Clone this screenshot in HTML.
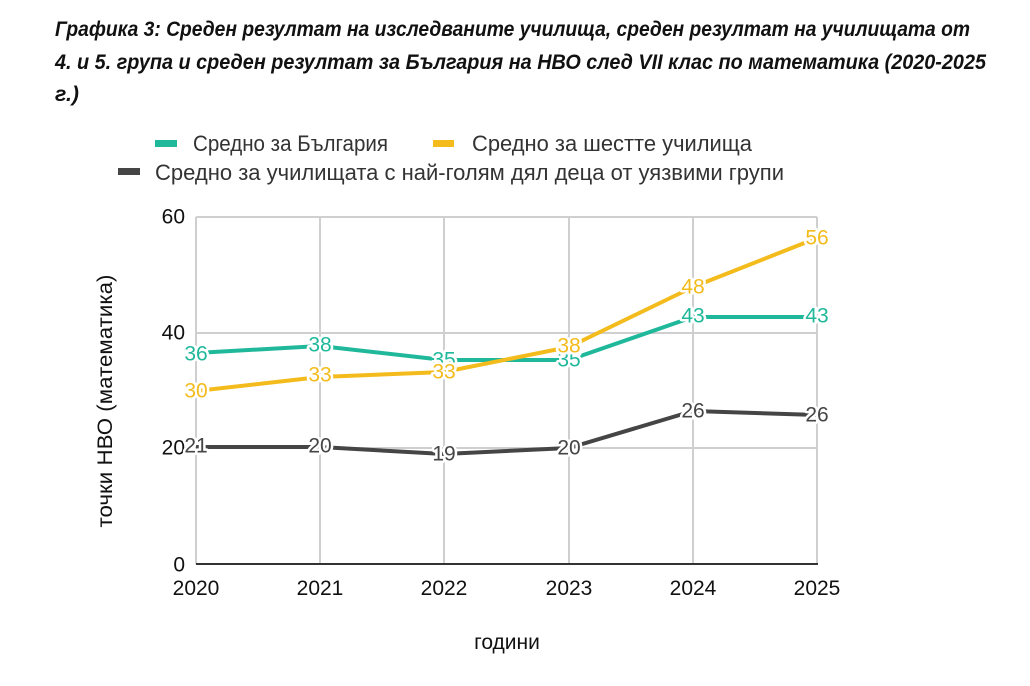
<!DOCTYPE html>
<html>
<head>
<meta charset="utf-8">
<style>
html,body{margin:0;padding:0;background:#fff;}
svg{display:block;}
text{font-family:"Liberation Sans","Noto Sans CJK JP",sans-serif;}
.t{font-weight:bold;font-style:italic;font-size:21px;fill:#111;}
.lg{font-size:22px;fill:#333;}
.tick{font-size:21px;fill:#111;}
.lbl{font-size:21px;paint-order:stroke;stroke:#fff;stroke-width:5px;stroke-linejoin:round;text-anchor:middle;dominant-baseline:central;}
</style>
</head>
<body>
<svg width="1030" height="686" viewBox="0 0 1030 686" xmlns="http://www.w3.org/2000/svg">
<rect width="1030" height="686" fill="#fff"/>
<!-- Title -->
<text class="t" x="55" y="36" textLength="915" lengthAdjust="spacingAndGlyphs">Графика 3: Среден резултат на изследваните училища, среден резултат на училищата от</text>
<text class="t" x="55" y="69" textLength="931" lengthAdjust="spacingAndGlyphs">4. и 5. група и среден резултат за България на НВО след VII клас по математика (2020-2025</text>
<text class="t" x="55" y="101" textLength="24" lengthAdjust="spacingAndGlyphs">г.)</text>

<!-- Legend -->
<rect x="155" y="140" width="22" height="7" fill="#20b89b"/>
<text class="lg" x="193" y="151" textLength="195" lengthAdjust="spacingAndGlyphs">Средно за България</text>
<rect x="433" y="140" width="21" height="7" fill="#f3bb1c"/>
<text class="lg" x="472" y="151" textLength="280" lengthAdjust="spacingAndGlyphs">Средно за шестте училища</text>
<rect x="118" y="168" width="22" height="7" fill="#454545"/>
<text class="lg" x="155" y="180" textLength="629" lengthAdjust="spacingAndGlyphs">Средно за училищата с най-голям дял деца от уязвими групи</text>

<!-- Grid -->
<g stroke="#cfcfcf" stroke-width="2" fill="none">
<line x1="196" y1="217" x2="817" y2="217"/>
<line x1="196" y1="333" x2="817" y2="333"/>
<line x1="196" y1="448" x2="817" y2="448"/>
<line x1="196" y1="217" x2="196" y2="564"/>
<line x1="320" y1="217" x2="320" y2="564"/>
<line x1="444" y1="217" x2="444" y2="564"/>
<line x1="569" y1="217" x2="569" y2="564"/>
<line x1="693" y1="217" x2="693" y2="564"/>
<line x1="817" y1="217" x2="817" y2="564"/>
</g>
<line x1="196" y1="564" x2="818" y2="564" stroke="#333" stroke-width="2"/>

<!-- Y tick labels -->
<g class="tick" text-anchor="end" dominant-baseline="central">
<text x="185" y="217">60</text>
<text x="185" y="333">40</text>
<text x="185" y="448">20</text>
<text x="185" y="565">0</text>
</g>
<!-- X tick labels -->
<g class="tick" text-anchor="middle">
<text x="196" y="595">2020</text>
<text x="320" y="595">2021</text>
<text x="444" y="595">2022</text>
<text x="569" y="595">2023</text>
<text x="693" y="595">2024</text>
<text x="817" y="595">2025</text>
</g>

<!-- Axis titles -->
<text x="507" y="649" font-size="21" fill="#111" text-anchor="middle">години</text>
<text transform="translate(112,401) rotate(-90)" font-size="21" fill="#111" text-anchor="middle" textLength="253" lengthAdjust="spacingAndGlyphs">точки НВО (математика)</text>

<!-- Teal series -->
<polyline points="196,353 320,346 444,360 569,360 693,317 817,317" fill="none" stroke="#20b89b" stroke-width="4" stroke-linejoin="round"/>
<g class="lbl" fill="#20b89b">
<text x="196" y="354">36</text>
<text x="320" y="345">38</text>
<text x="444" y="360">35</text>
<text x="569" y="360">35</text>
<text x="693" y="316">43</text>
<text x="817" y="316">43</text>
</g>

<!-- Yellow series -->
<polyline points="196,391 320,377 444,372 569,347 693,287 817,238" fill="none" stroke="#f3bb1c" stroke-width="4" stroke-linejoin="round"/>
<g class="lbl" fill="#f3bb1c">
<text x="196" y="391">30</text>
<text x="320" y="375">33</text>
<text x="444" y="372">33</text>
<text x="569" y="346">38</text>
<text x="693" y="287">48</text>
<text x="817" y="238">56</text>
</g>

<!-- Dark series -->
<polyline points="196,447 320,447 444,454 569,448 693,411 817,415" fill="none" stroke="#454545" stroke-width="4" stroke-linejoin="round"/>
<g class="lbl" fill="#454545">
<text x="196" y="446">21</text>
<text x="320" y="446">20</text>
<text x="444" y="454">19</text>
<text x="569" y="448">20</text>
<text x="693" y="411">26</text>
<text x="817" y="415">26</text>
</g>
</svg>
</body>
</html>
